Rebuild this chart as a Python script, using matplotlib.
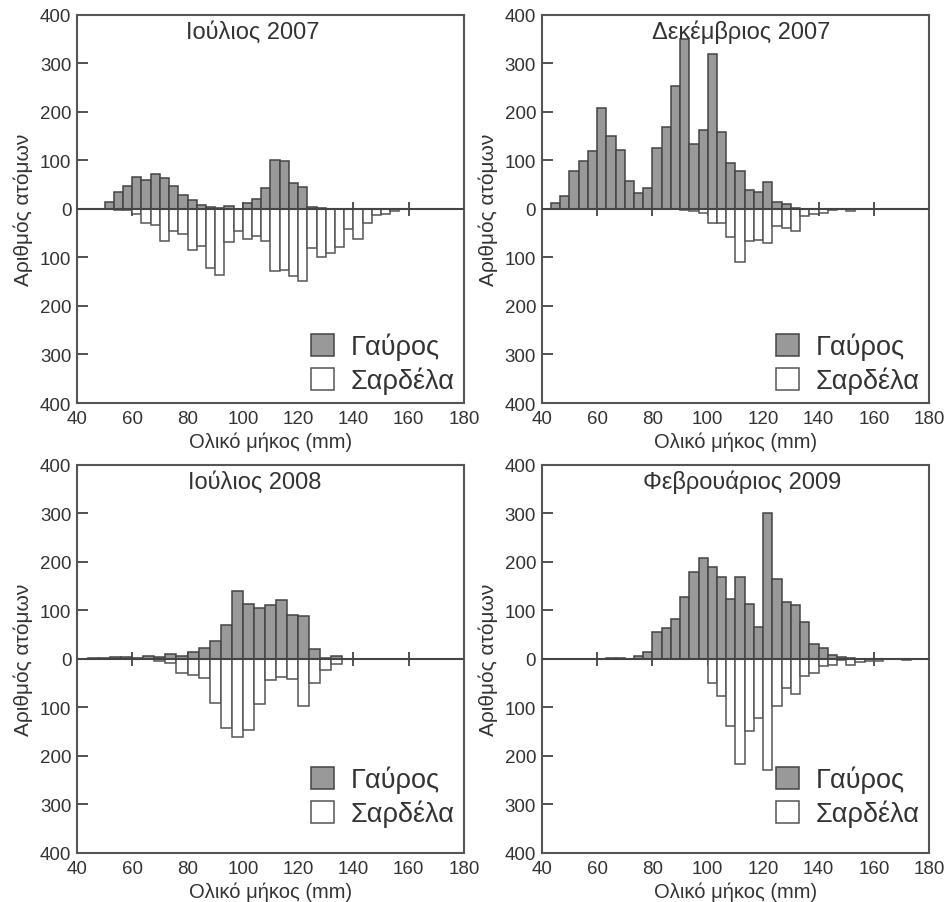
import numpy as np
import matplotlib.pyplot as plt
from matplotlib.ticker import FuncFormatter

plt.rcParams["font.family"] = ["Liberation Sans", "DejaVu Sans"]
plt.rcParams["text.color"] = "#333333"
plt.rcParams["axes.labelcolor"] = "#333333"
plt.rcParams["xtick.color"] = "#333333"
plt.rcParams["ytick.color"] = "#333333"

# Τίτλοι / δείγματα
titles = ["Ιούλιος 2007", "Δεκέμβριος 2007", "Ιούλιος 2008", "Φεβρουάριος 2009"]

# κατώτερο όριο πρώτης κλάσης και πλάτος κλάσης (mm)
bin_start = [50.0, 130 / 3, 44.0, 190 / 3]
bin_width = [10 / 3, 10 / 3, 4.0, 10 / 3]

# Γαύρος (πάνω) - Ιούλιος 2007
gavros_jul07 = [15, 36, 47, 65, 60, 73, 63, 48, 28, 19, 9, 4, 3, 6, 1, 12, 20,
                43, 101, 99, 54, 46, 4, 2, 1, 0, 0, 0, 0, 0, 0, 0, 0, 0]
sardela_jul07 = [0, 2, 3, 10, 28, 33, 65, 45, 52, 84, 76, 121, 137, 69, 46, 62,
                 55, 66, 128, 126, 139, 148, 81, 98, 91, 79, 41, 62, 28, 12, 10,
                 4, 1, 1]

# Δεκέμβριος 2007
gavros_dec07 = [12, 27, 79, 99, 119, 209, 150, 122, 57, 33, 44, 126, 170, 254,
                350, 134, 163, 320, 159, 95, 79, 39, 36, 56, 15, 11, 3, 1, 0, 0,
                0, 0, 0, 0]
sardela_dec07 = [0, 0, 0, 0, 0, 0, 0, 0, 0, 0, 0, 0, 0, 0, 3, 5, 8, 29, 29, 57,
                 109, 65, 63, 70, 36, 40, 45, 14, 10, 9, 3, 1, 4, 0]

# Ιούλιος 2008
gavros_jul08 = [1, 2, 4, 5, 3, 7, 4, 11, 7, 15, 23, 37, 69, 141, 113, 106, 112,
                121, 91, 89, 21, 2, 6, 0]
sardela_jul08 = [0, 0, 0, 0, 0, 0, 5, 9, 29, 33, 40, 91, 143, 160, 146, 92, 43,
                 38, 41, 98, 50, 22, 10, 0]

# Φεβρουάριος 2009
gavros_feb09 = [1, 1, 0, 6, 15, 55, 64, 83, 128, 180, 208, 190, 169, 123, 170,
                113, 66, 301, 165, 117, 111, 76, 30, 23, 8, 4, 1, 0, 0, 0, 0, 0, 0]
sardela_feb09 = [0, 0, 0, 0, 0, 0, 0, 0, 0, 0, 0, 49, 76, 138, 216, 148, 121,
                 228, 96, 59, 72, 36, 28, 15, 12, 3, 12, 7, 4, 5, 0, 0, 2]

gavros = [gavros_jul07, gavros_dec07, gavros_jul08, gavros_feb09]
sardela = [sardela_jul07, sardela_dec07, sardela_jul08, sardela_feb09]

x_ticks = [40, 60, 80, 100, 120, 140, 160, 180]
zero_ticks = [60, 80, 100, 120, 140, 160]
y_ticks = [-400, -300, -200, -100, 0, 100, 200, 300, 400]

# θέσεις αξόνων (κλάσματα σχήματος)
positions = [[0.0811, 0.5526, 0.4078, 0.4297],
             [0.5708, 0.5526, 0.4084, 0.4297],
             [0.0811, 0.0543, 0.4078, 0.4297],
             [0.5708, 0.0543, 0.4084, 0.4297]]
title_x = [0.455, 0.514, 0.458, 0.516]
legend_y = [0.022, 0.022, 0.066, 0.066]

fig = plt.figure(figsize=(9.49, 9.03), dpi=100)

for i in range(4):
    ax = fig.add_axes(positions[i])
    n = len(gavros[i])
    left = bin_start[i] + bin_width[i] * np.arange(n)
    g = ax.bar(left, gavros[i], width=bin_width[i], align="edge",
               color="#999999", edgecolor="#444444", linewidth=1.1, zorder=2,
               label="Γαύρος")
    s = ax.bar(left, -np.array(sardela[i]), width=bin_width[i], align="edge",
               color="white", edgecolor="#555555", linewidth=1.1, zorder=2,
               label="Σαρδέλα")
    ax.axhline(0, color="#444444", linewidth=1.5, zorder=3)
    ax.plot(zero_ticks, [0] * len(zero_ticks), linestyle="none", marker="|",
            markersize=10, markeredgewidth=1.3, color="#444444", zorder=1)

    ax.set_xlim(40, 180)
    ax.set_ylim(-400, 400)
    ax.set_xticks(x_ticks)
    ax.set_yticks(y_ticks)
    ax.yaxis.set_major_formatter(FuncFormatter(lambda v, p: "%d" % abs(v)))
    ax.tick_params(axis="x", length=0, pad=5, labelsize=13.5)
    ax.tick_params(axis="y", direction="in", length=8, width=1.3, pad=4,
                   labelsize=13.5, color="#444444")
    for sp in ax.spines.values():
        sp.set_color("#555555")
        sp.set_linewidth(1.5)

    ax.set_xlabel("Ολικό μήκος (mm)", fontsize=14.5, labelpad=3)
    ax.set_ylabel("Αριθμός ατόμων", fontsize=15, labelpad=5)
    ax.text(title_x[i], 0.957, titles[i], transform=ax.transAxes,
            ha="center", va="center", fontsize=17)

    ax.legend(handles=[g, s], loc="lower right",
              bbox_to_anchor=(0.975, legend_y[i]), frameon=False,
              fontsize=19.5, handlelength=0.85, handleheight=0.85,
              handletextpad=0.6, labelspacing=0.25, borderpad=0,
              borderaxespad=0)

fig.savefig("out.png", dpi=100)
